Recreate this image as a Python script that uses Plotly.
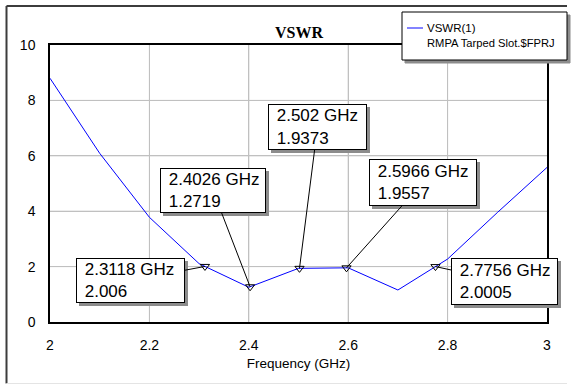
import plotly.graph_objects as go

# ---- data ----
freq = [2.0, 2.1, 2.2, 2.3, 2.4, 2.5, 2.6, 2.7, 2.8, 2.9, 3.0]
vswr = [8.80, 6.09, 3.78, 2.107, 1.254, 1.937, 1.956, 1.155, 2.273, 3.95, 5.58]

marker_freq = [2.3118, 2.4026, 2.502, 2.5966, 2.7756]
marker_vswr = [2.006, 1.2719, 1.9373, 1.9557, 2.0005]
marker_freq_txt = ["2.3118", "2.4026", "2.502", "2.5966", "2.7756"]
marker_vswr_txt = ["2.006", "1.2719", "1.9373", "1.9557", "2.0005"]

x_ticks = [2.0, 2.2, 2.4, 2.6, 2.8, 3.0]
x_tick_labels = ["2", "2.2", "2.4", "2.6", "2.8", "3"]
y_ticks = [0, 2, 4, 6, 8, 10]
y_tick_labels = ["0", "2", "4", "6", "8", "10"]

trace_name = "VSWR(1)"
trace_sub = "RMPA Tarped Slot.$FPRJ"
title_text = "VSWR"
x_title = "Frequency (GHz)"

# ---- layout geometry (pixels) ----
W, H = 573, 385
L, R, T, B = 50, 26, 45, 63
PW, PH = W - L - R, H - T - B
X_RANGE = [2, 3]
Y_RANGE = [0, 10]


def px(x):
    return (x - L) / PW


def py(y):
    return (H - B - y) / PH


# label box offsets (tail position relative to marker, px) and box sizes
box_dx = [-74, -37, 18, 76, 69]
box_dy = [14, -96, -141, -85, 15]
box_w = [109, 106, 99, 108, 107]
box_h = [45, 45, 46, 47, 47]

grid_color = "#c0c0c0"

# grid built from the tick arrays, drawn on the data scales
gx, gy = [], []
for v in x_ticks[1:-1]:
    gx += [v, v, None]
    gy += [Y_RANGE[0], Y_RANGE[1], None]
for v in y_ticks[1:-1]:
    gx += [X_RANGE[0], X_RANGE[1], None]
    gy += [v, v, None]

fig = go.Figure()
fig.add_trace(go.Scatter(x=gx, y=gy, mode="lines",
                         line=dict(color=grid_color, width=1),
                         showlegend=False, hoverinfo="skip"))
fig.add_trace(go.Scatter(x=freq, y=vswr, mode="lines",
                         line=dict(color="#0000ff", width=1),
                         name=trace_name, showlegend=False,
                         hoverinfo="skip"))
fig.add_trace(go.Scatter(x=marker_freq, y=marker_vswr, mode="markers",
                         marker=dict(symbol="triangle-down-open", size=8,
                                     color="black", line=dict(width=1)),
                         showlegend=False, hoverinfo="skip"))

annotations = []
pad, bw = 3, 1
full = pad + bw
for i in range(len(marker_freq)):
    txt = "&nbsp;%s GHz<br>&nbsp;%s" % (marker_freq_txt[i], marker_vswr_txt[i])
    # shadow
    annotations.append(dict(
        x=marker_freq[i], y=marker_vswr[i], xref="x", yref="y",
        text=" ", showarrow=False, xanchor="center", yanchor="middle",
        xshift=box_dx[i] + 3, yshift=-box_dy[i] - 3,
        width=box_w[i] - 2 * full, height=box_h[i] - 2 * full,
        bgcolor="#8c8c8c", bordercolor="#8c8c8c", borderwidth=bw,
        borderpad=pad))
    annotations.append(dict(
        x=marker_freq[i], y=marker_vswr[i], xref="x", yref="y",
        text=txt, showarrow=True, ax=box_dx[i], ay=box_dy[i],
        arrowhead=0, arrowwidth=1, arrowcolor="black", standoff=0,
        width=box_w[i] - 2 * full, height=box_h[i] - 2 * full,
        align="left", valign="middle",
        bgcolor="white", bordercolor="black", borderwidth=bw, borderpad=pad,
        font=dict(family="Liberation Sans, Arial", size=17, color="black")))

# title
annotations.append(dict(x=px(299), y=py(32), xref="paper", yref="paper",
                        text="<b>%s</b>" % title_text, showarrow=False,
                        xanchor="center", yanchor="middle",
                        font=dict(family="Liberation Serif, Times New Roman",
                                  size=16, color="black")))
# legend text
annotations.append(dict(x=px(425), y=py(28), xref="paper", yref="paper",
                        text=trace_name, showarrow=False, xanchor="left",
                        yanchor="middle",
                        font=dict(family="Liberation Sans, Arial", size=11.5,
                                  color="black")))
annotations.append(dict(x=px(425), y=py(43), xref="paper", yref="paper",
                        text=trace_sub, showarrow=False, xanchor="left",
                        yanchor="middle",
                        font=dict(family="Liberation Sans, Arial", size=11.2,
                                  color="black")))

shapes = [
    # outer frame
    dict(type="line", xref="paper", yref="paper", x0=px(6.5), x1=px(6.5),
         y0=py(6), y1=py(383.5), line=dict(color="#3c3c3c", width=2)),
    dict(type="line", xref="paper", yref="paper", x0=px(6.5), x1=px(567),
         y0=py(6), y1=py(6), line=dict(color="#3c3c3c", width=2)),
    dict(type="line", xref="paper", yref="paper", x0=px(6.5), x1=px(567),
         y0=py(383.5), y1=py(383.5), line=dict(color="#e4e4e4", width=1)),
    # legend shadow and box
    dict(type="rect", xref="paper", yref="paper", x0=px(405), x1=px(570),
         y0=py(15), y1=py(63), fillcolor="#8c8c8c",
         line=dict(color="#8c8c8c", width=1), layer="above"),
    dict(type="rect", xref="paper", yref="paper", x0=px(402), x1=px(567),
         y0=py(12), y1=py(60), fillcolor="white",
         line=dict(color="black", width=1), layer="above"),
    dict(type="line", xref="paper", yref="paper", x0=px(407), x1=px(423),
         y0=py(28), y1=py(28), line=dict(color="#5a5aff", width=1.5),
         layer="above"),
]

axis_common = dict(showgrid=True, gridcolor=grid_color, gridwidth=1,
                   showline=True, linecolor="black", linewidth=1.5,
                   mirror=True, zeroline=False,
                   ticks="outside", tickcolor="rgba(0,0,0,0)",
                   tickfont=dict(family="Liberation Sans, Arial", size=14,
                                 color="black"))

fig.update_layout(
    width=W, height=H, margin=dict(l=L, r=R, t=T, b=B),
    paper_bgcolor="white", plot_bgcolor="white",
    font=dict(family="Liberation Sans, Arial", size=14, color="black"),
    annotations=annotations, shapes=shapes, showlegend=False,
    xaxis=dict(range=X_RANGE, tickvals=x_ticks, ticktext=x_tick_labels,
               ticklen=9,
               title=dict(text=x_title, standoff=7,
                          font=dict(family="Liberation Sans, Arial", size=13.5)),
               **axis_common),
    yaxis=dict(range=Y_RANGE, tickvals=y_ticks, ticktext=y_tick_labels,
               ticklen=10, **axis_common),
)

fig.write_html("out.html")
